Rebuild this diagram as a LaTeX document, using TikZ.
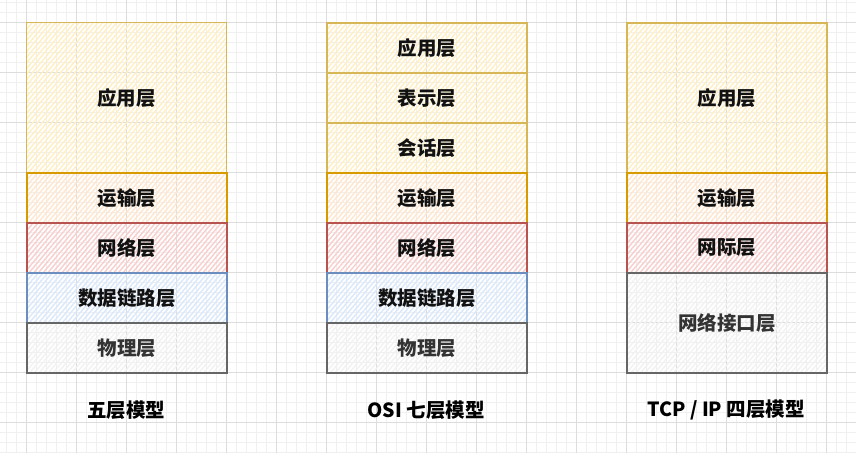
\documentclass[tikz,border=0pt]{standalone}
\usepackage{fontspec}
\setmainfont{Noto Sans CJK SC}
\usetikzlibrary{patterns.meta}
\definecolor{gridminor}{HTML}{F0F0F0}
\definecolor{gridmajor}{HTML}{DDDDDD}
\definecolor{yelF}{HTML}{FFEFC2}\definecolor{yelS}{HTML}{D6B656}
\definecolor{oraF}{HTML}{FFE6CC}\definecolor{oraS}{HTML}{D79B00}
\definecolor{redF}{HTML}{F8CECC}\definecolor{redS}{HTML}{B85450}
\definecolor{bluF}{HTML}{DAE8FC}\definecolor{bluS}{HTML}{6C8EBF}
\definecolor{graF}{HTML}{F2F2F2}\definecolor{graS}{HTML}{666666}
\definecolor{txtD}{HTML}{111111}\definecolor{txtG}{HTML}{333333}
\tikzset{
  layer/.style={draw, line width=1.5pt, minimum width=200pt, minimum height=50pt,
    inner sep=0pt, anchor=north west, font=\fontsize{19.5}{22}\selectfont\bfseries, text=txtD},
  hatch/.style={pattern={Lines[angle=50,distance=3.6pt,line width=1.4pt]}, pattern color=#1},
  yel/.style={layer, hatch=yelF, draw=yelS},
  ora/.style={layer, hatch=oraF, draw=oraS},
  red/.style={layer, hatch=redF, draw=redS},
  blu/.style={layer, hatch=bluF, draw=bluS},
  gra/.style={layer, hatch=graF, draw=graS, text=txtG},
  title/.style={font=\fontsize{19.5}{22}\selectfont\bfseries, text=black}
}
\begin{document}
\begin{tikzpicture}[x=1pt,y=1pt]
\useasboundingbox (0,0) rectangle (856,-453);
\fill[white] (0,0) rectangle (856,-453);
% grid
\foreach \x in {6,16,...,856} \draw[gridminor, line width=0.8pt] (\x,0) -- (\x,-453);
\foreach \y in {2,12,...,453} \draw[gridminor, line width=0.8pt] (0,-\y) -- (856,-\y);
\foreach \x in {26,76,...,856} \draw[gridmajor, line width=1pt] (\x,0) -- (\x,-453);
\foreach \y in {22,72,...,453} \draw[gridmajor, line width=1pt] (0,-\y) -- (856,-\y);
% column 1: five-layer model
\node[yel, minimum height=150pt] (a1) at (26,-22) {应用层};
\node[ora] (a2) at (26,-172) {运输层};
\node[red] (a3) at (26,-222) {网络层};
\node[blu] (a4) at (26,-272) {数据链路层};
\node[gra] (a5) at (26,-322) {物理层};
\node[title] (t1) at (126,-410) {五层模型};
% column 2: OSI
\node[yel] (b1) at (326,-22) {应用层};
\node[yel] (b2) at (326,-72) {表示层};
\node[yel] (b3) at (326,-122) {会话层};
\node[ora] (b4) at (326,-172) {运输层};
\node[red] (b5) at (326,-222) {网络层};
\node[blu] (b6) at (326,-272) {数据链路层};
\node[gra] (b7) at (326,-322) {物理层};
\node[title] (t2) at (426,-410) {OSI 七层模型};
% column 3: TCP/IP
\node[yel, minimum height=150pt] (c1) at (626,-22) {应用层};
\node[ora] (c2) at (626,-172) {运输层};
\node[red] (c3) at (626,-222) {网际层};
\node[gra, minimum height=100pt] (c4) at (626,-272) {网络接口层};
\node[title] (t3) at (726,-410) {TCP / IP 四层模型};
\end{tikzpicture}
\end{document}
